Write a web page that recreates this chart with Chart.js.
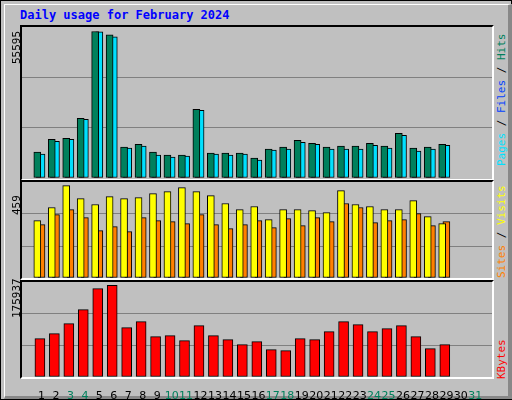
<!DOCTYPE html>
<html><head><meta charset="utf-8">
<script src="https://cdn.jsdelivr.net/npm/chart.js@4"></script>
<style>
body{margin:0;background:#fff}
#wrap{position:absolute;left:0;top:0;width:510px;height:398px;background:#c0c0c0;border:1px solid #000}
.abs{position:absolute}
.frame{position:absolute;border-top:2px solid #000;border-left:2px solid #000;border-right:2px solid #fff;border-bottom:2px solid #fff;box-sizing:border-box}
.vl{position:absolute;transform-origin:0 0;transform:rotate(-90deg);white-space:nowrap;font-family:"DejaVu Sans Mono",monospace;font-size:11px}
</style></head><body>
<div id="wrap">
 <div class="abs" style="left:3px;top:3px;width:503px;height:391px;border-top:1px solid #fff;border-left:1px solid #fff;border-right:4px solid #888;border-bottom:3px solid #888"></div>
 <div class="abs" style="left:19px;top:7px;font:bold 12px 'DejaVu Sans Mono',monospace;color:#0000ff">Daily usage for February 2024</div>
 <div class="frame" style="left:19px;top:24px;width:474px;height:156px"></div>
 <div class="frame" style="left:19px;top:179px;width:474px;height:100px"></div>
 <div class="frame" style="left:19px;top:279px;width:474px;height:99px"></div>
 <canvas id="c1" class="abs" style="left:21px;top:26px"></canvas>
 <canvas id="c2" class="abs" style="left:21px;top:181px"></canvas>
 <canvas id="c3" class="abs" style="left:21px;top:281px"></canvas>
 <div class="vl" style="left:9px;top:63px">55595</div>
 <div class="vl" style="left:9px;top:214px">459</div>
 <div class="vl" style="left:9px;top:317px">175937</div>
 <div class="vl" style="left:494px;top:165px"><span style="color:#00e0ff">Pages</span> / <span style="color:#0040ff">Files</span> / <span style="color:#00805c">Hits</span></div>
 <div class="vl" style="left:494px;top:277px"><span style="color:#ff8000">Sites</span> / <span style="color:#ffff00">Visits</span></div>
 <div class="vl" style="left:494px;top:378px"><span style="color:#ff0000">KBytes</span></div>
</div>
<script>
const days=[1,2,3,4,5,6,7,8,9,10,11,12,13,14,15,16,17,18,19,20,21,22,23,24,25,26,27,28,29];
const weekendDays=[3,4,10,11,17,18,24,25,31];
const hits=[9802,14703,15080,22620,55595,54288,11687,12818,9802,8671,8671,26013,9425,9425,9425,7540,10933,11687,14326,13195,11687,12064,12064,13195,12064,16965,11310,11687,12818];
const files=[9048,13949,14703,22243,55419,53534,11310,12064,8671,7917,8294,25636,9048,8671,9048,6786,10556,10933,13572,12818,10933,10933,10933,12441,11310,16211,10179,10933,12441];
const pages=[7917,9048,11310,20735,42601,41847,10556,9425,8294,7163,7917,21112,8294,7917,6786,6409,7163,7917,9802,9425,10933,10556,10556,9048,10556,10556,9048,9048,10556];
const visits=[285,350,459,394,365,404,394,399,419,429,449,429,409,370,340,355,290,340,340,335,325,434,365,355,340,340,384,305,270];
const sites=[265,315,340,300,235,255,230,300,285,280,270,315,265,245,265,285,250,295,260,300,280,370,350,275,285,290,320,260,280];
const kbytes=[73577,83174,102368,129240,169547,175937,94690,106207,77416,79335,69738,98529,79335,71658,62061,67819,52464,50544,73577,71658,87013,106207,100449,87013,92771,98529,77416,54383,62061];
const maxHits=55595, maxVisits=459, maxKB=175937;

Chart.defaults.animation=false;
Chart.defaults.font.family="'DejaVu Sans',sans-serif";
function pts(arr,off){return arr.map((v,i)=>({x:days[i]+off,y:v}));}
function ds(arr,off,color,w){return {data:pts(arr,off),backgroundColor:color,borderColor:'#000',borderWidth:1,barThickness:w,grouped:false,borderSkipped:false};}
function yAx(max){return {min:0,max:max,display:true,ticks:{display:false,stepSize:max/3},border:{display:false},
  grid:{drawTicks:false,color:c=>(c.tick&&c.tick.value>0&&c.tick.value<max-1)?'#808080':'rgba(0,0,0,0)',lineWidth:1},afterFit:s=>{s.width=0;}};}
function xAx(show){const a={type:'linear',min:0.176,max:31.63,display:show,
  ticks:{stepSize:1,autoSkip:false,maxRotation:0,font:{size:11},color:c=>weekendDays.includes(c.tick.value)?'#00805c':'#000',padding:5},
  grid:{display:false},border:{display:false},afterBuildTicks:s=>{s.ticks=[];for(let d=1;d<=31;d++)s.ticks.push({value:d});}};
  if(show)a.afterFit=s=>{s.height=22;};return a;}
function mk(id,w,h,datasets,max,showX){
  const cv=document.getElementById(id);cv.width=w;cv.height=h;cv.style.width=w+'px';cv.style.height=h+'px';
  new Chart(cv,{type:'bar',data:{datasets},options:{responsive:false,layout:{padding:0},
    plugins:{legend:{display:false},tooltip:{enabled:false}},scales:{x:xAx(showX),y:yAx(max)}}});
}
const k1=maxHits*152/147.5, k2=maxVisits*96/92.4, k3=maxKB*95/91.7;
mk('c1',470,151,[ds(hits,-0.29,'#00805c',7),ds(files,0,'#00e0ff',7),ds(pages,-0.315,'#0040ff',2)],k1,false);
mk('c2',470,96,[ds(visits,-0.29,'#ffff00',7),ds(sites,0,'#ff8000',7)],k2,false);
mk('c3',470,117,[ds(kbytes,-0.11,'#ff0000',10)],k3,true);
</script>
</body></html>
